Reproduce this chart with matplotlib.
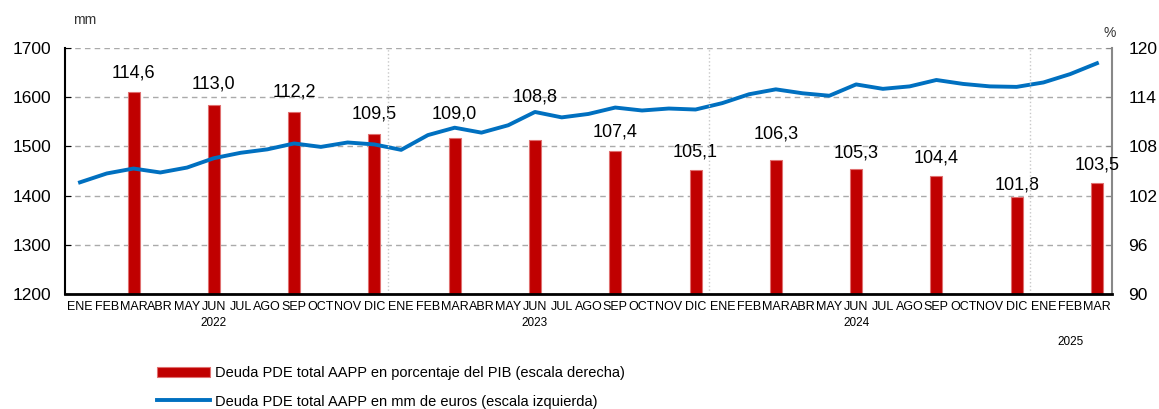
import matplotlib
matplotlib.use('Agg')
import matplotlib.pyplot as plt
import matplotlib.transforms as mtransforms
import numpy as np

plt.rcParams['font.family'] = ['Liberation Sans', 'DejaVu Sans']

# data
months = ['ENE', 'FEB', 'MAR', 'ABR', 'MAY', 'JUN', 'JUL', 'AGO', 'SEP', 'OCT', 'NOV', 'DIC'] * 3 + ['ENE', 'FEB', 'MAR']
years = ['2022', '2023', '2024', '2025']
year_pos = [5, 17, 29, 37]

debt_mm = [1427, 1445, 1455, 1447, 1457, 1476, 1487, 1494, 1506, 1499, 1508, 1504,
           1493, 1523, 1538, 1528, 1543, 1570, 1559, 1566, 1579, 1573, 1577, 1575,
           1588, 1606, 1616, 1608, 1603, 1626, 1617, 1622, 1635, 1627, 1622, 1621,
           1630, 1647, 1669]

pib_idx = [2, 5, 8, 11, 14, 17, 20, 23, 26, 29, 32, 35, 38]
pib_pct = [114.6, 113.0, 112.2, 109.5, 109.0, 108.8, 107.4, 105.1, 106.3, 105.3, 104.4, 101.8, 103.5]
# label offsets above bar top (points)
lab_off = [8, 9, 8, 8, 11, 25, 8, 7, 13, 5, 7, 3, 7]

red = '#C00000'
blue = '#0070C0'

fig = plt.figure(figsize=(11.59, 4.09), dpi=100)
ax = fig.add_axes([0.0561, 0.2812, 0.9033, 0.6014])
ax2 = ax.twinx()
ax.set_zorder(ax2.get_zorder() + 1)
ax.patch.set_visible(False)

# bars (right scale)
ax2.bar(pib_idx, pib_pct, width=0.45, color=red, edgecolor='#E07070', linewidth=0.8,
        label='Deuda PDE total AAPP en porcentaje del PIB (escala derecha)')
ax2.set_ylim(90, 120)
ax2.set_yticks(np.arange(90, 121, 6))
ax2.yaxis.grid(True, linestyle=(0, (4, 3)), color='#AAAAAA', linewidth=1)
ax2.set_axisbelow(True)
for i, v, o in zip(pib_idx, pib_pct, lab_off):
    ax2.annotate(('%.1f' % v).replace('.', ','), (i, v), xytext=(0, o),
                 textcoords='offset points', ha='center', va='bottom', fontsize=13)

# line (left scale)
x = np.arange(len(debt_mm))
ax.plot(x, debt_mm, color=blue, linewidth=2.8, solid_joinstyle='round',
        label='Deuda PDE total AAPP en mm de euros (escala izquierda)')
ax.set_ylim(1200, 1700)
ax.set_yticks(np.arange(1200, 1701, 100))
ax.set_xlim(-0.56, 38.56)
ax.set_xticks(x)
ax.set_xticklabels(months, fontsize=9)

for b in [11.5, 23.5, 35.5]:
    ax.axvline(b, color='#C8C8C8', linestyle=':', linewidth=1)

ax.tick_params(axis='x', length=0, pad=5)
ax.tick_params(axis='y', direction='in', length=4, labelsize=12.5, pad=10)
ax2.tick_params(axis='y', direction='in', length=4, labelsize=12.5, pad=12, color='#888888')

for a in (ax, ax2):
    a.spines['top'].set_visible(False)
ax.spines['left'].set_linewidth(1.5)
ax.spines['bottom'].set_linewidth(2)
ax.spines['right'].set_visible(False)
ax2.spines['left'].set_visible(False)
ax2.spines['bottom'].set_visible(False)
ax2.spines['right'].set_color('#888888')
ax2.spines['right'].set_linewidth(1.5)

trans = mtransforms.blended_transform_factory(ax.transData, ax.transAxes)
for yr, p in zip(years, year_pos):
    yy = -0.118 if yr != '2025' else -0.195
    ax.text(p, yy, yr, transform=trans, ha='center', va='center', fontsize=8.5)

fig.text(85 / 1159, 1 - 20 / 409, 'mm', ha='center', va='center', fontsize=10, color='#333333')
fig.text(1110 / 1159, 1 - 33 / 409, '%', ha='center', va='center', fontsize=10, color='#333333')

h1, l1 = ax2.get_legend_handles_labels()
h2, l2 = ax.get_legend_handles_labels()
fig.legend(h1 + h2, l1 + l2, loc='upper left', bbox_to_anchor=(157 / 1159, 1 - 366 / 409),
           frameon=False, handlelength=3.6, handletextpad=0.4, labelspacing=1.0,
           borderpad=0, borderaxespad=0, fontsize=10.5)

fig.savefig('out.png', dpi=100)
